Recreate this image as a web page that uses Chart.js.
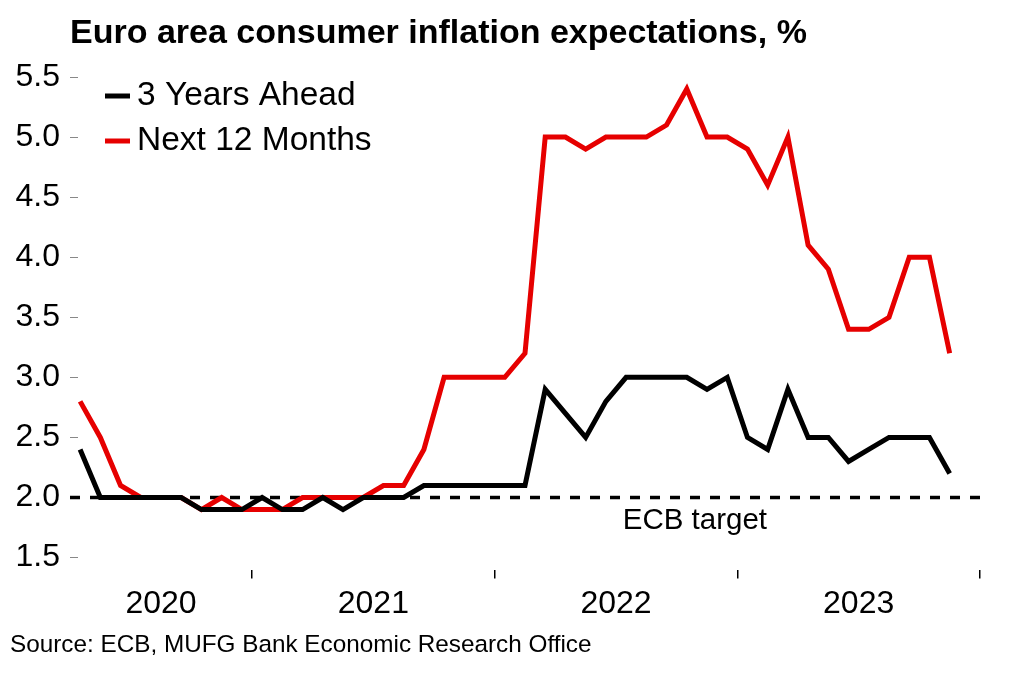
<!DOCTYPE html>
<html lang="en">
<head>
<meta charset="UTF-8">
<title>Euro area consumer inflation expectations</title>
<script src="https://cdn.jsdelivr.net/npm/chart.js@4"></script>
<style>
  html, body { margin: 0; padding: 0; background: #fff; }
</style>
</head>
<body>
<canvas id="chart" width="1022" height="681"></canvas>
<script>
    // monthly survey, Apr 2020 - Nov 2023
    const months = [
        'Apr-20', 'May-20', 'Jun-20', 'Jul-20', 'Aug-20', 'Sep-20', 'Oct-20', 'Nov-20', 'Dec-20',
        'Jan-21', 'Feb-21', 'Mar-21', 'Apr-21', 'May-21', 'Jun-21', 'Jul-21', 'Aug-21', 'Sep-21', 'Oct-21', 'Nov-21', 'Dec-21',
        'Jan-22', 'Feb-22', 'Mar-22', 'Apr-22', 'May-22', 'Jun-22', 'Jul-22', 'Aug-22', 'Sep-22', 'Oct-22', 'Nov-22', 'Dec-22',
        'Jan-23', 'Feb-23', 'Mar-23', 'Apr-23', 'May-23', 'Jun-23', 'Jul-23', 'Aug-23', 'Sep-23', 'Oct-23', 'Nov-23'
    ];
    const threeYearsAhead = [
        2.4, 2.0, 2.0, 2.0, 2.0, 2.0, 1.9, 1.9, 1.9,
        2.0, 1.9, 1.9, 2.0, 1.9, 2.0, 2.0, 2.0, 2.1, 2.1, 2.1, 2.1,
        2.1, 2.1, 2.9, 2.7, 2.5, 2.8, 3.0, 3.0, 3.0, 3.0, 2.9, 3.0,
        2.5, 2.4, 2.9, 2.5, 2.5, 2.3, 2.4, 2.5, 2.5, 2.5, 2.2
    ];
    const next12Months = [
        2.8, 2.5, 2.1, 2.0, 2.0, 2.0, 1.9, 2.0, 1.9,
        1.9, 1.9, 2.0, 2.0, 2.0, 2.0, 2.1, 2.1, 2.4, 3.0, 3.0, 3.0,
        3.0, 3.2, 5.0, 5.0, 4.9, 5.0, 5.0, 5.0, 5.1, 5.4, 5.0, 5.0,
        4.9, 4.6, 5.0, 4.1, 3.9, 3.4, 3.4, 3.5, 4.0, 4.0, 3.2
    ];
    const years = ['2020', '2021', '2022', '2023'];
    const yTicks = [1.5, 2.0, 2.5, 3.0, 3.5, 4.0, 4.5, 5.0, 5.5];
    const ecbTarget = 2.0;

    const chartTitle = 'Euro area consumer inflation expectations, %';
    const sourceText = 'Source: ECB, MUFG Bank Economic Research Office';
    const fontFamily = '"Liberation Sans", Arial, sans-serif';

    // axis runs to the end of Dec 2023 (one empty month after the last point)
    const axisEnd = months.length + 1;

    // year boundaries (tick marks) and year label positions, in months from Apr 2020
    const yearStarts = [];
    months.forEach((m, i) => { if (m.startsWith('Jan')) yearStarts.push(i); });
    const yearEdges = [...yearStarts, axisEnd];
    const yearMids = [0, ...yearStarts].map((s, i) => (s + yearEdges[i]) / 2);

    const toPoints = arr => arr.map((v, i) => ({ x: i + 0.5, y: v }));

    Chart.defaults.font.family = fontFamily;
    Chart.defaults.color = '#000';

    // title, legend, target label and source drawn on top of the chart
    const textPlugin = {
        id: 'chartText',
        afterDraw(chart) {
            const { ctx, chartArea, scales } = chart;
            ctx.save();
            ctx.fillStyle = '#000';
            ctx.textBaseline = 'middle';
            ctx.textAlign = 'left';

            ctx.font = 'bold 34px ' + fontFamily;
            ctx.fillText(chartTitle, chartArea.left, 34);

            ctx.font = '33.5px ' + fontFamily;
            chart.data.datasets.slice(0, 2).forEach((ds, i) => {
                const y = chartArea.top + 19 + i * 45;
                ctx.strokeStyle = ds.borderColor;
                ctx.lineWidth = 5;
                ctx.beginPath();
                ctx.moveTo(chartArea.left + 35, y);
                ctx.lineTo(chartArea.left + 60, y);
                ctx.stroke();
                ctx.fillText(ds.label, chartArea.left + 67, y);
            });

            ctx.textAlign = 'center';
            ctx.font = '29.5px ' + fontFamily;
            ctx.fillText('ECB target', scales.x.getPixelForValue(30.9), scales.y.getPixelForValue(ecbTarget) + 23);

            ctx.textAlign = 'left';
            ctx.font = '24.3px ' + fontFamily;
            ctx.fillText(sourceText, 10, 645);
            ctx.restore();
        }
    };

    const ctx = document.getElementById('chart').getContext('2d');
    const chart = new Chart(ctx, {
        type: 'line',
        data: {
            datasets: [{
                label: '3 Years Ahead',
                data: toPoints(threeYearsAhead),
                borderColor: '#000000',
                borderWidth: 5,
                pointRadius: 0,
                tension: 0
            }, {
                label: 'Next 12 Months',
                data: toPoints(next12Months),
                borderColor: '#e60000',
                borderWidth: 5,
                pointRadius: 0,
                tension: 0
            }, {
                label: 'ECB target',
                data: [{ x: 0, y: ecbTarget }, { x: axisEnd, y: ecbTarget }],
                borderColor: '#000000',
                borderWidth: 3.5,
                borderDash: [10, 10],
                pointRadius: 0
            }]
        },
        options: {
            responsive: false,
            animation: false,
            layout: { padding: { left: 10, right: 42, top: 77, bottom: 52 } },
            plugins: {
                legend: { display: false },
                tooltip: { enabled: false }
            },
            scales: {
                x: {
                    type: 'linear',
                    position: 'bottom',
                    min: 0,
                    max: axisEnd,
                    afterBuildTicks: scale => { scale.ticks = yearEdges.map(v => ({ value: v })); },
                    ticks: { display: false },
                    grid: { drawOnChartArea: false, tickLength: 9, color: '#000', lineWidth: 1.5 },
                    border: { display: false }
                },
                xYears: {
                    type: 'linear',
                    position: 'bottom',
                    weight: 1,
                    min: 0,
                    max: axisEnd,
                    afterBuildTicks: scale => { scale.ticks = yearMids.map(v => ({ value: v })); },
                    ticks: {
                        autoSkip: false,
                        maxRotation: 0,
                        padding: 6,
                        font: { size: 32 },
                        callback: (v, i) => years[i]
                    },
                    grid: { display: false, drawTicks: false },
                    border: { display: false }
                },
                y: {
                    min: 1.4,
                    max: 5.5,
                    afterBuildTicks: scale => { scale.ticks = yTicks.map(v => ({ value: v })); },
                    afterFit: scale => { scale.width = 60; },
                    ticks: {
                        padding: 18,
                        font: { size: 32 },
                        callback: v => v.toFixed(1)
                    },
                    grid: { drawOnChartArea: false, tickLength: -8, color: '#888', lineWidth: 1 },
                    border: { display: false }
                }
            }
        },
        plugins: [textPlugin]
    });
</script>
</body>
</html>
